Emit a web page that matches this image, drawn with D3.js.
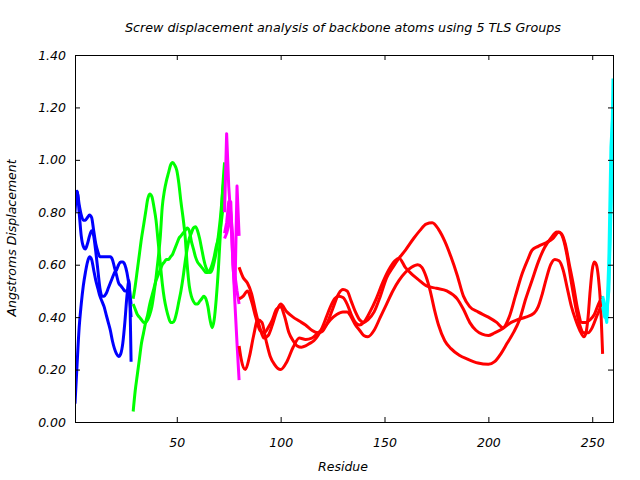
<!DOCTYPE html>
<html><head><meta charset="utf-8">
<script src="https://cdn.jsdelivr.net/npm/d3@7"></script>
<style>
body{margin:0;background:#fff;}
svg text{font-family:"DejaVu Sans",sans-serif;font-style:italic;font-size:12px;fill:#000;}
</style></head>
<body><svg id="c" width="640" height="480"></svg>
<script>
const titleText = "Screw displacement analysis of backbone atoms using 5 TLS Groups";
const xLabel = "Residue";
const yLabel = "Angstroms Displacement";
const xTicks = [50, 100, 150, 200, 250];
const yTicks = [0, 0.2, 0.4, 0.6, 0.8, 1.0, 1.2, 1.4];

// Group 1 (blue), residues 1-28
const blueRes = [1,2,3,4,5,6,7,8,9,10,11,12,13,14,15,16,17,18,19,20,21,22,23,24,25,26,27,28];
const blueA = [0.07,0.22,0.36,0.45,0.52,0.57,0.61,0.63,0.62,0.58,0.54,0.51,0.48,0.46,0.44,0.41,0.38,0.35,0.31,0.28,0.26,0.25,0.26,0.30,0.38,0.48,0.54,0.23];
const blueB = [0.80,0.88,0.80,0.71,0.67,0.66,0.68,0.71,0.73,0.71,0.65,0.58,0.51,0.48,0.48,0.49,0.51,0.53,0.55,0.57,0.58,0.60,0.61,0.61,0.60,0.57,0.52,0.45];
const blueC = [0.84,0.88,0.83,0.79,0.77,0.77,0.78,0.79,0.78,0.73,0.68,0.65,0.63,0.63,0.63,0.63,0.63,0.63,0.62,0.59,0.56,0.53,0.52,0.51,0.50,0.50,0.49,0.40];

// Group 2 (green), residues 29-73
const greenRes = [29,30,31,32,33,34,35,36,37,38,39,40,41,42,43,44,45,46,47,48,49,50,51,52,53,54,55,56,57,58,59,60,61,62,63,64,65,66,67,68,69,70,71,72,73];
const greenA = [0.04,0.12,0.18,0.24,0.30,0.34,0.38,0.41,0.45,0.48,0.51,0.54,0.56,0.58,0.60,0.61,0.62,0.62,0.63,0.64,0.66,0.68,0.70,0.71,0.72,0.73,0.74,0.73,0.69,0.66,0.63,0.61,0.60,0.59,0.58,0.57,0.57,0.58,0.60,0.63,0.67,0.70,0.74,0.80,0.86];
const greenB = [0.47,0.52,0.58,0.64,0.70,0.75,0.80,0.85,0.87,0.86,0.82,0.77,0.69,0.61,0.53,0.47,0.43,0.40,0.38,0.38,0.39,0.42,0.46,0.50,0.55,0.61,0.66,0.70,0.72,0.74,0.745,0.73,0.70,0.66,0.62,0.59,0.575,0.57,0.58,0.61,0.65,0.71,0.78,0.87,0.95];
const greenC = [0.45,0.43,0.41,0.40,0.39,0.38,0.38,0.39,0.41,0.44,0.49,0.55,0.62,0.70,0.82,0.88,0.92,0.95,0.98,0.99,0.98,0.96,0.91,0.84,0.78,0.71,0.60,0.52,0.48,0.46,0.45,0.45,0.46,0.47,0.48,0.47,0.44,0.39,0.36,0.39,0.47,0.58,0.72,0.88,0.99];

// Group 3 (magenta), residues 73-80
const magentaRes = [73,74,75,76,77,78,79,80];
const magentaA = [0.80,1.10,0.90,0.78,0.62,0.45,0.30,0.16];
const magentaB = [0.72,0.76,0.84,0.80,0.70,0.56,0.50,0.45];
const magentaC = [0.70,0.72,0.75,0.84,0.60,0.50,0.90,0.71];

// Group 4 (red), residues 80-255: [residue, displacement]
const redA = [[80,0.59],[82,0.55],[84,0.53],[86,0.49],[88,0.42],[90,0.36],[92,0.32],[94,0.33],[96,0.37],[98,0.42],[100,0.45],[103,0.42],[106,0.40],[109,0.385],[112,0.37],[115,0.35],[118,0.34],[120,0.345],[122,0.37],[125,0.43],[128,0.49],[130,0.505],[132,0.50],[134,0.46],[136,0.42],[138,0.39],[140,0.38],[142,0.39],[145,0.42],[148,0.48],[151,0.55],[154,0.59],[157,0.625],[160,0.655],[164,0.70],[167,0.73],[170,0.755],[173,0.76],[176,0.735],[179,0.69],[182,0.63],[185,0.56],[188,0.48],[191,0.44],[195,0.42],[200,0.40],[204,0.38],[207,0.36],[210,0.40],[213,0.48],[216,0.56],[219,0.62],[221,0.655],[224,0.67],[228,0.685],[231,0.70],[234,0.725],[236,0.70],[238,0.63],[240,0.53],[242,0.44],[244,0.37],[246,0.34],[248,0.34],[250,0.36],[252,0.40],[254,0.44],[255,0.47]];
const redB = [[80,0.47],[82,0.48],[84,0.50],[86,0.46],[88,0.40],[90,0.35],[92,0.34],[94,0.36],[96,0.39],[98,0.43],[100,0.44],[102,0.40],[104,0.34],[106,0.31],[108,0.29],[110,0.285],[112,0.29],[114,0.30],[116,0.31],[118,0.33],[120,0.36],[122,0.40],[124,0.44],[126,0.47],[128,0.48],[130,0.475],[132,0.45],[134,0.41],[136,0.38],[138,0.37],[140,0.38],[143,0.42],[146,0.47],[149,0.53],[152,0.58],[155,0.615],[157,0.625],[160,0.59],[163,0.565],[166,0.545],[170,0.52],[175,0.51],[180,0.50],[185,0.47],[188,0.43],[191,0.38],[194,0.35],[197,0.335],[200,0.33],[203,0.34],[207,0.357],[211,0.38],[214,0.39],[218,0.40],[222,0.415],[224,0.44],[226,0.49],[228,0.55],[230,0.60],[232,0.62],[234,0.615],[236,0.58],[238,0.51],[240,0.44],[242,0.39],[244,0.35],[246,0.325],[247,0.34],[248,0.40],[249,0.50],[250,0.58],[251,0.61],[252,0.60],[253,0.55],[254,0.45],[255,0.26]];
const redC = [[80,0.29],[81,0.24],[83,0.20],[85,0.25],[87,0.33],[89,0.39],[91,0.38],[93,0.31],[95,0.25],[97,0.22],[100,0.20],[103,0.23],[106,0.285],[109,0.32],[112,0.315],[115,0.32],[118,0.34],[121,0.36],[124,0.39],[127,0.41],[130,0.42],[132,0.42],[134,0.40],[136,0.37],[138,0.35],[140,0.33],[142,0.325],[145,0.35],[148,0.40],[151,0.45],[154,0.50],[157,0.54],[160,0.57],[163,0.59],[166,0.60],[168,0.59],[170,0.555],[172,0.50],[174,0.43],[176,0.37],[179,0.31],[182,0.28],[186,0.255],[190,0.24],[195,0.225],[200,0.22],[203,0.23],[206,0.26],[209,0.30],[212,0.34],[215,0.39],[218,0.47],[221,0.54],[224,0.61],[227,0.665],[230,0.70],[233,0.725],[235,0.72],[237,0.68],[239,0.60],[241,0.52],[243,0.43],[245,0.38],[247,0.38],[249,0.39],[251,0.41],[253,0.45],[255,0.48]];

// Group 5 (cyan), residues 255-260
const cyanRes = [255,256,257,258,259,260];
const cyanA = [0.47,0.42,0.38,0.55,0.85,1.31];
const cyanB = [0.44,0.40,0.40,0.62,1.05,1.19];
const cyanC = [0.48,0.45,0.42,0.50,0.80,1.10];

const L = 75, R = 613, T = 55, B = 422;
const svg = d3.select("#c");
const x = d3.scaleLinear().domain([1, 260]).range([L, R]);
const y = d3.scaleLinear().domain([0, 1.4]).range([B, T]);

const zip = (rs, vs) => rs.map((r, i) => [r, vs[i]]);
const series = [
  {c:"#0000ff", d:zip(blueRes, blueA), smooth:true},
  {c:"#0000ff", d:zip(blueRes, blueB), smooth:true},
  {c:"#0000ff", d:zip(blueRes, blueC), smooth:true},
  {c:"#00ff00", d:zip(greenRes, greenA), smooth:true},
  {c:"#00ff00", d:zip(greenRes, greenB), smooth:true},
  {c:"#00ff00", d:zip(greenRes, greenC), smooth:true},
  {c:"#ff00ff", d:zip(magentaRes, magentaA), smooth:false},
  {c:"#ff00ff", d:zip(magentaRes, magentaB), smooth:false},
  {c:"#ff00ff", d:zip(magentaRes, magentaC), smooth:false},
  {c:"#ff0000", d:redA, smooth:true},
  {c:"#ff0000", d:redB, smooth:true},
  {c:"#ff0000", d:redC, smooth:true},
  {c:"#00ffff", d:zip(cyanRes, cyanA), smooth:false},
  {c:"#00ffff", d:zip(cyanRes, cyanB), smooth:false},
  {c:"#00ffff", d:zip(cyanRes, cyanC), smooth:false}
];

svg.append("defs").append("clipPath").attr("id","pc")
  .append("rect").attr("x", L).attr("y", T).attr("width", R - L).attr("height", B - T);

const gData = svg.append("g").attr("clip-path", "url(#pc)");
series.forEach(s => {
  const line = d3.line().x(d => x(d[0])).y(d => y(d[1]))
    .curve(s.smooth ? d3.curveMonotoneX : d3.curveLinear);
  gData.append("path").attr("d", line(s.d)).attr("fill", "none")
    .attr("stroke", s.c).attr("stroke-width", 3).attr("stroke-linejoin", "round");
});

// axes (ticks inward, mirrored)
const axB = d3.axisBottom(x).tickValues(xTicks).tickSize(-5).tickPadding(16).tickFormat(d3.format("d"));
const axT = d3.axisTop(x).tickValues(xTicks).tickSize(-5).tickFormat("");
const axLft = d3.axisLeft(y).tickValues(yTicks).tickSize(-5).tickPadding(9).tickFormat(d3.format(".2f"));
const axRgt = d3.axisRight(y).tickValues(yTicks).tickSize(-5).tickFormat("");
[[axB, `translate(0,${B})`], [axT, `translate(0,${T})`], [axLft, `translate(${L},0)`], [axRgt, `translate(${R},0)`]]
  .forEach(([ax, tr]) => {
    const g = svg.append("g").attr("transform", tr).call(ax);
    g.select(".domain").remove();
    g.selectAll("line").attr("stroke", "#000");
    g.selectAll("text").style("font-family", "'DejaVu Sans',sans-serif").style("font-style", "italic").style("font-size", "12.5px").attr("fill", "#000");
  });
svg.append("rect").attr("x", L).attr("y", T).attr("width", R - L).attr("height", B - T)
  .attr("fill", "none").attr("stroke", "#000").attr("stroke-width", 1).attr("shape-rendering", "crispEdges");

svg.append("text").attr("x", 343).attr("y", 32).attr("text-anchor", "middle").style("font-size", "12.7px").text(titleText);
svg.append("text").attr("x", 343).attr("y", 471).attr("text-anchor", "middle").style("font-size", "12.5px").text(xLabel);
svg.append("text").attr("transform", "translate(16,238) rotate(-90)").attr("text-anchor", "middle").style("font-size", "12.5px").text(yLabel);
</script></body></html>
